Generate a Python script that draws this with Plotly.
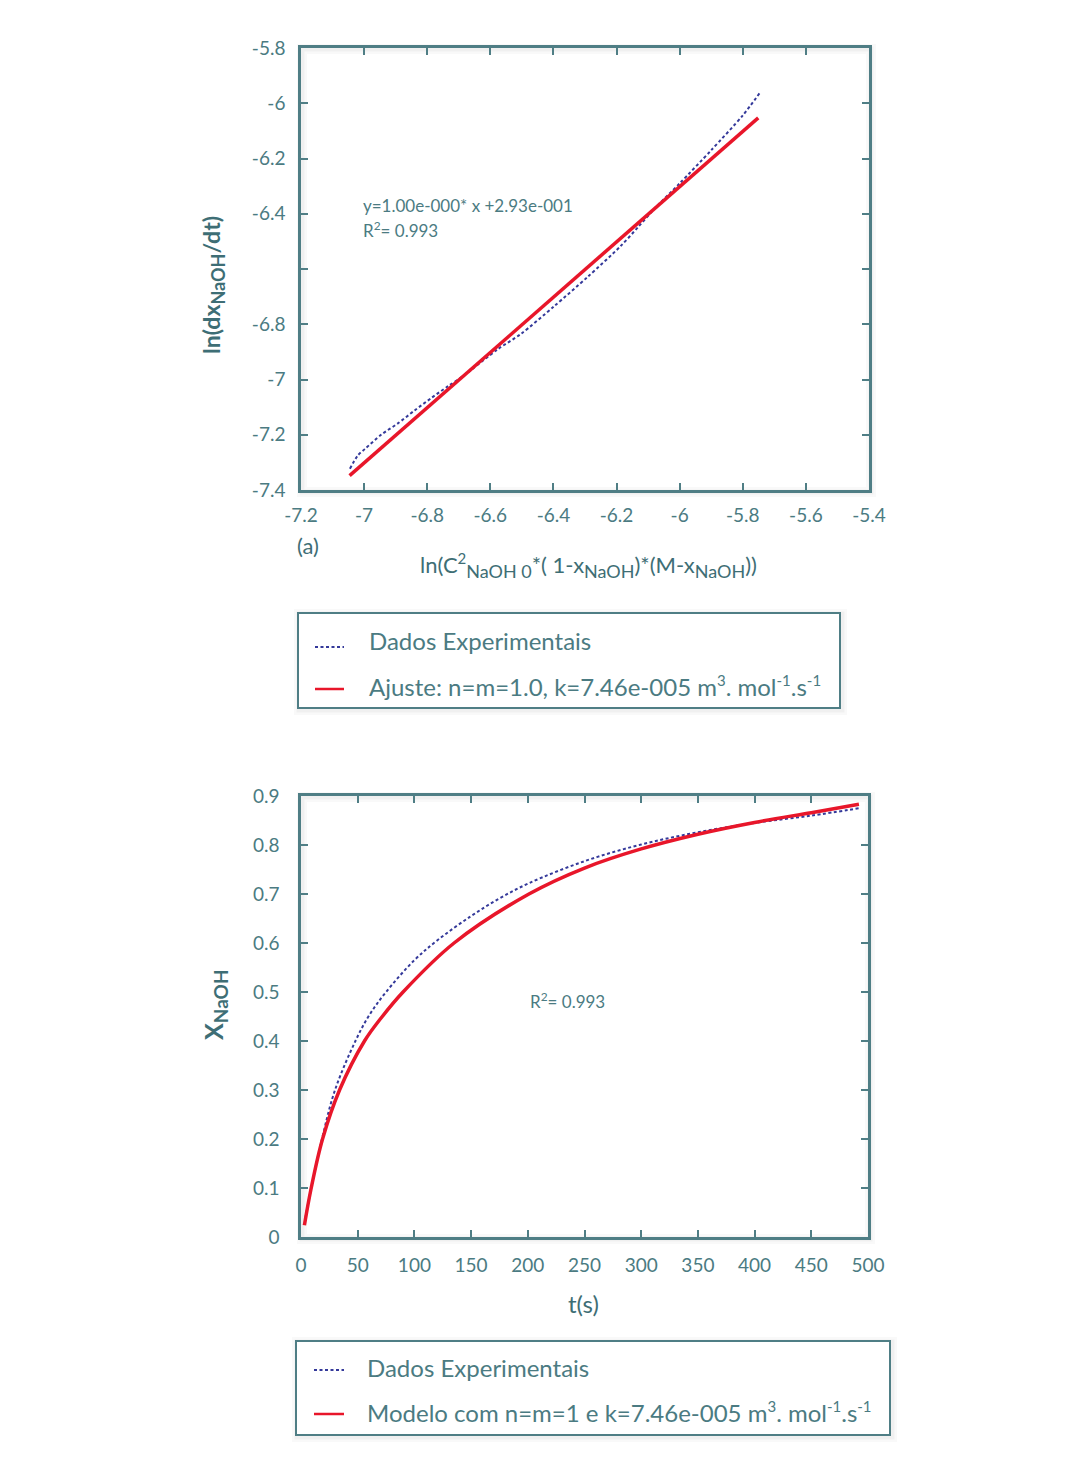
import plotly.graph_objects as go

# ---------------- data: panel (a) ----------------
xa_exp = [-7.045, -7.02, -6.998, -6.945, -6.893, -6.840, -6.787, -6.735, -6.682, -6.576,
          -6.503, -6.398, -6.292, -6.187, -6.13, -6.08, -6.0, -5.9, -5.8, -5.747]
ya_exp = [-7.323, -7.275, -7.252, -7.199, -7.159, -7.112, -7.067, -7.025, -6.984, -6.890,
          -6.835, -6.735, -6.629, -6.517, -6.446, -6.382, -6.290, -6.170, -6.044, -5.964]
xa_fit = [-7.046, -5.751]
ya_fit = [-7.348, -6.053]

xa_ticks = [-7.2, -7.0, -6.8, -6.6, -6.4, -6.2, -6.0, -5.8, -5.6, -5.4]
xa_ticktext = ["-7.2", "-7", "-6.8", "-6.6", "-6.4", "-6.2", "-6", "-5.8", "-5.6", "-5.4"]
ya_ticks = [-7.4, -7.2, -7.0, -6.8, -6.6, -6.4, -6.2, -6.0, -5.8]
ya_ticktext = ["-7.4", "-7.2", "-7", "-6.8", "", "-6.4", "-6.2", "-6", "-5.8"]

# ---------------- data: panel (b) ----------------
tb_exp = [4, 9, 18.5, 30, 48, 60, 75, 100, 120, 150, 175, 201, 250, 300, 350, 400, 450, 492]
xb_exp = [0.041, 0.1, 0.2, 0.3, 0.4, 0.452, 0.5, 0.565, 0.605, 0.655, 0.691, 0.722, 0.767, 0.801,
          0.826, 0.845, 0.860, 0.875]
tb_mod = [3, 9, 19, 34, 56, 71, 90, 135, 201, 250, 300, 350, 400, 450, 492]
xb_mod = [0.024, 0.1, 0.2, 0.3, 0.4, 0.448, 0.5, 0.6, 0.70, 0.753, 0.792, 0.822, 0.846, 0.866, 0.883]

xb_ticks = [0, 50, 100, 150, 200, 250, 300, 350, 400, 450, 500]
xb_ticktext = ["0", "50", "100", "150", "200", "250", "300", "350", "400", "450", "500"]
yb_ticks = [0, 0.1, 0.2, 0.3, 0.4, 0.5, 0.6, 0.7, 0.8, 0.9]
yb_ticktext = ["0", "0.1", "0.2", "0.3", "0.4", "0.5", "0.6", "0.7", "0.8", "0.9"]

SUP = "<sup><span style='font-size:15px'>%s</span></sup>"
SUB = "<sub><span style='font-size:%dpx'>%s</span></sub>"
legend_a = ["Dados Experimentais",
            "Ajuste: n=m=1.0, k=7.46e-005 m" + SUP % "3" + ". mol" + SUP % "-1" + ".s" + SUP % "-1"]
legend_b = ["Dados Experimentais",
            "Modelo com n=m=1 e k=7.46e-005 m" + SUP % "3" + ". mol" + SUP % "-1" + ".s" + SUP % "-1"]

# ---------------- style ----------------
W, H = 1080, 1484
FONT = "Lato"
AX = "#4f7e85"
TXT = "#4b7b82"
TITLE = "#3e6e75"
BLUE = "#34399a"
RED = "#e8162a"


def px(x):
    return x / W


def py(y):
    return 1 - y / H


fig = go.Figure()
fig.add_trace(go.Scatter(x=xa_exp, y=ya_exp, mode="lines", line=dict(color=BLUE, width=2, dash="3px,2.5px", shape="spline", smoothing=0.8),
                         xaxis="x", yaxis="y", showlegend=False))
fig.add_trace(go.Scatter(x=xa_fit, y=ya_fit, mode="lines", line=dict(color=RED, width=3.5),
                         xaxis="x", yaxis="y", showlegend=False))
fig.add_trace(go.Scatter(x=tb_exp, y=xb_exp, mode="lines", line=dict(color=BLUE, width=2, dash="3px,2.5px", shape="spline", smoothing=1),
                         xaxis="x2", yaxis="y2", showlegend=False))
fig.add_trace(go.Scatter(x=tb_mod, y=xb_mod, mode="lines", line=dict(color=RED, width=3.5, shape="spline", smoothing=1),
                         xaxis="x2", yaxis="y2", showlegend=False))

axis_common = dict(showgrid=False, zeroline=False, showline=True, linecolor=AX, linewidth=2.5,
                   mirror="ticks", ticks="inside", ticklen=7, tickwidth=2, tickcolor=AX,
                   tickfont=dict(family=FONT, size=19, color=TXT), tickmode="array", automargin=False)

fig.update_layout(
    width=W, height=H, margin=dict(l=0, r=0, t=0, b=0, pad=0), autosize=False,
    paper_bgcolor="white", plot_bgcolor="white",
    xaxis=dict(axis_common, domain=[px(301), px(869)], range=[-7.2, -5.4], anchor="y",
               tickvals=xa_ticks, ticktext=xa_ticktext, ticklabelstandoff=6),
    yaxis=dict(axis_common, domain=[py(490), py(48)], range=[-7.4, -5.8], anchor="x",
               tickvals=ya_ticks, ticktext=ya_ticktext, ticklabelstandoff=9),
    xaxis2=dict(axis_common, domain=[px(301), px(868)], range=[0, 500], anchor="y2",
                tickvals=xb_ticks, ticktext=xb_ticktext, ticklabelstandoff=9),
    yaxis2=dict(axis_common, domain=[py(1237), py(796)], range=[0, 0.9], anchor="x2",
                tickvals=yb_ticks, ticktext=yb_ticktext, ticklabelstandoff=15),
)

shapes = []
# soft shadows behind frames and legend boxes
for (x0, y0, x1, y1) in [(301, 48, 869, 490), (301, 796, 868, 1237), (298, 613, 840, 708), (296, 1341, 890, 1435)]:
    for w, a in [(10, 0.025), (5, 0.035)]:
        shapes.append(dict(type="rect", xref="paper", yref="paper", x0=px(x0 + 1), y0=py(y1 + 2),
                           x1=px(x1 + 2), y1=py(y0 + 1), line=dict(color="rgba(0,0,0,%s)" % a, width=w),
                           layer="below"))
# legend boxes
for (x0, y0, x1, y1) in [(298, 613, 840, 708), (296, 1341, 890, 1435)]:
    shapes.append(dict(type="rect", xref="paper", yref="paper", x0=px(x0), y0=py(y1), x1=px(x1), y1=py(y0),
                       line=dict(color=AX, width=2), fillcolor="white", layer="above"))
# legend swatches
for (x0, x1, yb, yr) in [(315, 344, 647, 689), (314, 344, 1370, 1414)]:
    shapes.append(dict(type="line", xref="paper", yref="paper", x0=px(x0), x1=px(x1), y0=py(yb), y1=py(yb),
                       line=dict(color=BLUE, width=2, dash="3px,2.5px")))
    shapes.append(dict(type="line", xref="paper", yref="paper", x0=px(x0), x1=px(x1), y0=py(yr), y1=py(yr),
                       line=dict(color=RED, width=2.5)))
fig.update_layout(shapes=shapes)

ann = []


def text(x, y, s, size, color=TXT, xanchor="left", angle=0, weight="normal"):
    ann.append(dict(x=px(x), y=py(y), xref="paper", yref="paper", text=s, showarrow=False,
                    xanchor=xanchor, yanchor="middle", textangle=angle,
                    font=dict(family=FONT, size=size, color=color, weight=weight)))


# panel (a)
text(361, 205, "y=1.00e-000* x +2.93e-001", 17)
text(361, 230, "R<sup>2</sup>= 0.993", 17)
text(213, 285, "ln(dx" + SUB % (18, "NaOH") + "/dt)", 23, TITLE, "center", -90, "bold")
text(588, 565, "ln(C<sup><span style='font-size:15px'>2</span></sup>" + SUB % (18, "NaOH 0") + "*( 1-x"
     + SUB % (18, "NaOH") + ")*(M-x" + SUB % (18, "NaOH") + "))", 22, TITLE, "center")
text(295, 545, "(a)", 22, TITLE)
text(367, 640, legend_a[0], 24)
text(367, 686, legend_a[1], 24)

# panel (b)
text(528, 1000, "R<sup>2</sup>= 0.993", 17)
text(215, 1005, "X" + SUB % (19, "NaOH"), 25, TITLE, "center", -90, "bold")
text(583, 1303, "t(s)", 24, TITLE, "center")
text(365, 1367, legend_b[0], 24)
text(365, 1412, legend_b[1], 24)

fig.update_layout(annotations=ann)
fig.write_html("out.html", config={"displayModeBar": False},
               post_script="document.body.style.margin='0';document.body.style.overflow='hidden';")
